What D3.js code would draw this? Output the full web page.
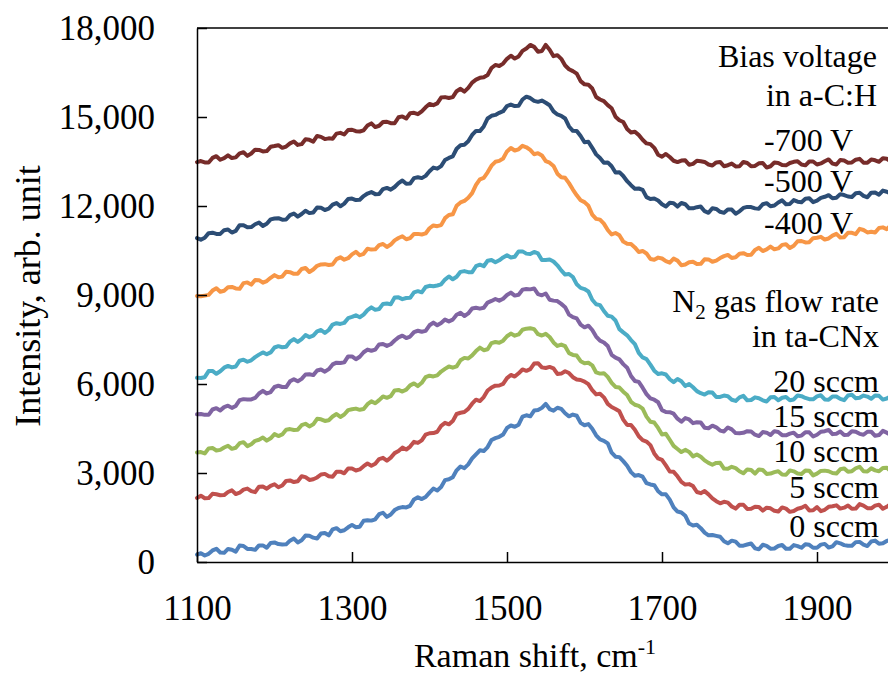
<!DOCTYPE html>
<html>
<head>
<meta charset="utf-8">
<script src="https://cdn.jsdelivr.net/npm/d3@7"></script>
<style>
  html, body { margin: 0; padding: 0; background: #fff; overflow: hidden; }
  svg { display: block; font-family: "Liberation Serif", "Times New Roman", serif; }
</style>
</head>
<body>
<svg id="chart" width="888" height="677"></svg>
<script>
// Raman shift grid (cm-1), one reading every 5 cm-1
const ramanShift = d3.range(1100, 2001, 5);

// Intensity (arb. unit), offset-stacked spectra; each row covers 100 cm-1
const sccm0 = [
  250, 295, 220, 275, 390, 445, 320, 310, 440, 415, 350, 555, 540, 440, 440, 410, 560, 560, 480, 640,
  660, 605, 590, 595, 720, 790, 660, 735, 890, 885, 820, 790, 960, 980, 900, 1100, 1140, 1035, 1070, 1170,
  1250, 1170, 1190, 1390, 1410, 1395, 1440, 1610, 1660, 1520, 1600, 1750, 1820, 1850, 1840, 1895, 2110, 2185, 2120, 2190,
  2340, 2475, 2410, 2525, 2760, 2790, 2860, 3090, 3220, 3165, 3290, 3490, 3630, 3765, 3740, 3875, 4110, 4175, 4220, 4300,
  4520, 4600, 4560, 4630, 4900, 4945, 4910, 5105, 5120, 5195, 5330, 5155, 5100, 5200, 5160, 5015, 4910, 4970, 4930, 4690,
  4610, 4650, 4490, 4270, 4130, 4085, 4000, 3685, 3550, 3535, 3400, 3245, 3030, 2910, 2930, 2875, 2660, 2615, 2590, 2385,
  2280, 2280, 2100, 1840, 1700, 1670, 1560, 1295, 1230, 1255, 1140, 990, 900, 910, 880, 850, 700, 630, 720, 685,
  550, 550, 590, 625, 460, 430, 580, 545, 450, 455, 540, 572, 445, 448, 570, 535, 480, 600, 580, 480,
  480, 585, 610, 488, 525, 668, 630, 568, 545, 548, 670, 678, 585, 538, 690, 722, 615, 632, 710, 745,
  660];
const sccm5 = [
  2160, 2235, 2150, 2155, 2300, 2285, 2250, 2255, 2360, 2415, 2290, 2335, 2440, 2475, 2390, 2355, 2540, 2545, 2470, 2565,
  2620, 2520, 2580, 2735, 2750, 2695, 2720, 2890, 2860, 2765, 2790, 2850, 2950, 2970, 2890, 2875, 3040, 3045, 2990, 3150,
  3150, 3085, 3120, 3230, 3320, 3245, 3310, 3470, 3510, 3415, 3520, 3670, 3740, 3855, 3790, 3890, 4050, 4015, 4100, 4290,
  4340, 4345, 4390, 4590, 4690, 4640, 4750, 4990, 5030, 5055, 5160, 5335, 5470, 5425, 5560, 5780, 5880, 5945, 5950, 6005,
  6200, 6305, 6250, 6360, 6490, 6445, 6500, 6690, 6700, 6560, 6540, 6575, 6530, 6340, 6350, 6430, 6370, 6230, 6150, 6135,
  6080, 5995, 5790, 5650, 5670, 5550, 5330, 5225, 5160, 5080, 4800, 4620, 4620, 4460, 4240, 4110, 4060, 3940, 3660, 3490,
  3440, 3255, 3050, 3040, 2890, 2700, 2610, 2625, 2560, 2360, 2320, 2390, 2280, 2145, 2050, 1980, 2030, 2000, 1870, 1800,
  1930, 1930, 1790, 1795, 1860, 1855, 1730, 1830, 1810, 1725, 1700, 1840, 1800, 1690, 1720, 1795, 1830, 1895, 1740, 1745,
  1850, 1715, 1760, 1860, 1880, 1910, 1800, 1832, 1905, 1792, 1800, 1950, 1900, 1815, 1810, 1900, 1930, 1795, 1860, 1945,
  1930];
const sccm10 = [
  3690, 3705, 3660, 3830, 3840, 3760, 3780, 3860, 3920, 3815, 3850, 4005, 4040, 3905, 3970, 4085, 4120, 4195, 4090, 4170,
  4310, 4245, 4300, 4460, 4480, 4450, 4460, 4610, 4660, 4570, 4640, 4825, 4810, 4755, 4780, 4905, 4990, 4890, 4970, 5120,
  5150, 5170, 5130, 5155, 5320, 5415, 5350, 5455, 5580, 5535, 5590, 5785, 5800, 5745, 5810, 5955, 6020, 5930, 6040, 6230,
  6280, 6255, 6290, 6420, 6510, 6590, 6550, 6595, 6800, 6880, 6860, 6965, 7110, 7225, 7140, 7170, 7380, 7415, 7390, 7460,
  7610, 7700, 7630, 7670, 7830, 7865, 7880, 7850, 7680, 7635, 7690, 7585, 7400, 7285, 7330, 7275, 7040, 6980, 6960, 6770,
  6700, 6715, 6630, 6390, 6350, 6365, 6240, 6040, 5900, 5880, 5740, 5630, 5400, 5300, 5260, 5170, 4900, 4730, 4700, 4520,
  4300, 4320, 4120, 3915, 3810, 3705, 3780, 3710, 3560, 3625, 3550, 3425, 3340, 3280, 3340, 3345, 3150, 3140, 3210, 3165,
  3060, 2990, 3120, 3100, 2980, 3120, 3100, 2970, 2980, 3030, 3060, 2950, 2940, 3088, 3055, 2982, 2970, 3085, 3080, 2920,
  2980, 3070, 3080, 3060, 3000, 2982, 3125, 3155, 3045, 3062, 3160, 3210, 3060, 3048, 3155, 3088, 3060, 3170, 3180, 3055,
  3110];
const sccm15 = [
  4980, 4990, 4960, 4960, 5140, 5185, 5110, 5220, 5270, 5195, 5260, 5455, 5490, 5475, 5480, 5530, 5680, 5770, 5680, 5730,
  5900, 5940, 5900, 5895, 6090, 6160, 6090, 6175, 6320, 6330, 6300, 6455, 6490, 6415, 6500, 6660, 6720, 6705, 6730, 6930,
  6930, 6835, 6920, 7070, 7160, 7120, 7160, 7335, 7350, 7285, 7340, 7465, 7570, 7630, 7550, 7600, 7750, 7795, 7760, 7790,
  7980, 8070, 7980, 8055, 8170, 8110, 8170, 8335, 8400, 8290, 8380, 8545, 8570, 8540, 8570, 8745, 8800, 8865, 8810, 8875,
  9000, 9080, 8980, 9010, 9180, 9205, 9190, 9220, 9030, 8990, 9050, 8840, 8810, 8795, 8700, 8590, 8340, 8255, 8210, 8000,
  7910, 7965, 7820, 7600, 7460, 7400, 7280, 6985, 6890, 6830, 6670, 6550, 6270, 6100, 6070, 5875, 5660, 5515, 5470, 5385,
  5120, 5055, 5050, 5000, 4830, 4730, 4850, 4805, 4680, 4710, 4700, 4525, 4510, 4595, 4540, 4430, 4400, 4535, 4470, 4345,
  4340, 4355, 4410, 4400, 4290, 4245, 4380, 4360, 4280, 4410, 4380, 4275, 4270, 4325, 4360, 4240, 4260, 4375, 4370, 4230,
  4290, 4390, 4410, 4450, 4310, 4325, 4400, 4285, 4290, 4410, 4390, 4320, 4290, 4390, 4390, 4255, 4280, 4420, 4360, 4285,
  4290];
const sccm20 = [
  6210, 6200, 6230, 6435, 6440, 6345, 6430, 6550, 6610, 6560, 6590, 6785, 6820, 6750, 6800, 6905, 6990, 7065, 7000, 7065,
  7230, 7275, 7240, 7255, 7430, 7515, 7420, 7515, 7650, 7580, 7630, 7775, 7820, 7720, 7820, 8005, 8050, 8025, 8060, 8220,
  8260, 8315, 8250, 8340, 8490, 8585, 8500, 8530, 8700, 8715, 8690, 8915, 8920, 8860, 8900, 8905, 9090, 9130, 9090, 9270,
  9310, 9295, 9320, 9360, 9520, 9625, 9530, 9615, 9780, 9805, 9770, 9770, 9970, 10020, 9970, 10155, 10180, 10105, 10170, 10265,
  10340, 10265, 10290, 10470, 10470, 10395, 10380, 10450, 10400, 10180, 10180, 10195, 10130, 10000, 9830, 9690, 9710, 9605, 9360, 9240,
  9200, 9120, 8840, 8690, 8660, 8460, 8300, 8270, 8140, 7850, 7740, 7640, 7480, 7345, 7050, 6895, 6840, 6655, 6450, 6335,
  6360, 6320, 6160, 6065, 6170, 6090, 5930, 6000, 5890, 5760, 5690, 5645, 5720, 5710, 5560, 5565, 5610, 5590, 5470, 5430,
  5550, 5600, 5450, 5460, 5550, 5520, 5450, 5410, 5550, 5560, 5450, 5535, 5560, 5450, 5480, 5615, 5590, 5530, 5490, 5485,
  5580, 5620, 5480, 5470, 5580, 5580, 5500, 5455, 5610, 5635, 5520, 5535, 5610, 5575, 5500, 5610, 5600, 5475, 5510, 5580,
  5550];
const bias400 = [
  8970, 8955, 8980, 9005, 9150, 9230, 9110, 9145, 9260, 9270, 9220, 9210, 9400, 9425, 9350, 9505, 9500, 9415, 9470, 9580,
  9670, 9595, 9620, 9785, 9770, 9715, 9720, 9875, 9910, 9775, 9860, 9985, 10030, 10040, 10010, 10030, 10210, 10270, 10190, 10240,
  10370, 10455, 10340, 10390, 10560, 10530, 10540, 10680, 10720, 10620, 10700, 10840, 10920, 10980, 10880, 10920, 11060, 11060, 11040, 11075,
  11250, 11345, 11320, 11355, 11590, 11695, 11720, 12010, 12120, 12170, 12280, 12435, 12710, 12900, 12950, 13135, 13360, 13490, 13520, 13600,
  13840, 13955, 13870, 13910, 14030, 13980, 13890, 13745, 13780, 13705, 13510, 13460, 13350, 13090, 12970, 12950, 12770, 12555, 12360, 12195,
  12130, 12010, 11710, 11565, 11540, 11405, 11190, 11040, 11090, 11015, 10800, 10730, 10720, 10605, 10450, 10485, 10400, 10215, 10190, 10260,
  10230, 10140, 10090, 10225, 10160, 10005, 10030, 10105, 10120, 10045, 10050, 10205, 10200, 10120, 10160, 10245, 10310, 10350, 10250, 10270,
  10390, 10410, 10350, 10355, 10520, 10590, 10480, 10535, 10630, 10540, 10570, 10690, 10710, 10585, 10660, 10810, 10820, 10770, 10780, 10915,
  10930, 10960, 10870, 10905, 11000, 11060, 10940, 10950, 11100, 11095, 11050, 11230, 11190, 11110, 11130, 11105, 11260, 11280, 11220, 11345,
  11330];
const bias500 = [
  10920, 10865, 10930, 11085, 11100, 11060, 11060, 11185, 11210, 11105, 11160, 11355, 11350, 11280, 11290, 11385, 11440, 11330, 11400, 11550,
  11580, 11590, 11540, 11545, 11690, 11745, 11640, 11730, 11840, 11760, 11780, 11950, 11940, 11865, 11910, 12045, 12100, 11990, 12080, 12235,
  12250, 12200, 12210, 12335, 12420, 12470, 12400, 12405, 12570, 12610, 12550, 12640, 12770, 12860, 12750, 12755, 12940, 12970, 12940, 13015,
  13170, 13295, 13260, 13345, 13550, 13620, 13670, 13930, 14050, 14065, 14180, 14395, 14530, 14525, 14680, 14950, 15040, 15070, 15140, 15195,
  15370, 15420, 15370, 15380, 15590, 15685, 15640, 15545, 15510, 15555, 15480, 15395, 15190, 15085, 15040, 14950, 14680, 14535, 14530, 14360,
  14150, 14165, 13960, 13740, 13620, 13455, 13470, 13340, 13130, 13140, 13010, 12835, 12700, 12585, 12590, 12545, 12300, 12235, 12250, 12185,
  12060, 11985, 12110, 12095, 11980, 12100, 12060, 11920, 11920, 11960, 11980, 11825, 11770, 11925, 11900, 11805, 11770, 11885, 11880, 11740,
  11820, 11935, 11970, 11965, 11920, 11910, 12060, 12095, 11990, 12015, 12120, 12190, 12060, 12070, 12200, 12145, 12130, 12245, 12260, 12130,
  12180, 12275, 12310, 12365, 12260, 12280, 12400, 12370, 12320, 12305, 12430, 12445, 12340, 12295, 12450, 12455, 12380, 12520, 12480, 12425,
  12430];
const bias700 = [
  13480, 13515, 13470, 13465, 13620, 13680, 13560, 13615, 13710, 13615, 13640, 13775, 13810, 13690, 13770, 13900, 13890, 13840, 13850, 13995,
  14020, 14050, 13960, 14005, 14110, 14175, 14060, 14085, 14250, 14230, 14170, 14360, 14330, 14255, 14280, 14270, 14440, 14465, 14410, 14560,
  14570, 14520, 14510, 14550, 14710, 14785, 14660, 14705, 14830, 14840, 14790, 14790, 14990, 15020, 14950, 15125, 15140, 15095, 15190, 15325,
  15440, 15400, 15460, 15655, 15670, 15640, 15670, 15870, 15950, 15855, 15980, 16160, 16260, 16320, 16340, 16415, 16650, 16755, 16720, 16800,
  16960, 17065, 16970, 17040, 17230, 17310, 17430, 17365, 17200, 17225, 17430, 17270, 17050, 17085, 16960, 16735, 16610, 16545, 16460, 16210,
  16100, 16090, 15960, 15675, 15590, 15535, 15400, 15295, 15010, 14890, 14830, 14595, 14480, 14505, 14390, 14230, 14110, 14085, 13960, 13730,
  13660, 13755, 13650, 13525, 13480, 13530, 13540, 13390, 13420, 13525, 13510, 13485, 13400, 13365, 13470, 13485, 13340, 13375, 13430, 13335,
  13340, 13485, 13450, 13340, 13350, 13440, 13450, 13295, 13340, 13465, 13450, 13380, 13370, 13450, 13490, 13505, 13400, 13370, 13500, 13500,
  13400, 13435, 13510, 13570, 13430, 13400, 13550, 13535, 13460, 13470, 13560, 13590, 13460, 13455, 13570, 13540, 13490, 13610, 13590, 13510,
  13530];

const seriesNames  = ["0 sccm", "5 sccm", "10 sccm", "15 sccm", "20 sccm", "-400 V", "-500 V", "-700 V"];
const seriesValues = [sccm0, sccm5, sccm10, sccm15, sccm20, bias400, bias500, bias700];
const seriesColors = ["#4F81BD", "#C0504D", "#9BBB59", "#8064A2", "#4BACC6", "#F79646", "#2C4D75", "#772C2A"];

const xTicks = [1100, 1300, 1500, 1700, 1900];
const yTicks = [0, 3000, 6000, 9000, 12000, 15000, 18000];

const svg = d3.select("#chart");
const margin = { left: 197, top: 28, bottom: 562 };

const x = d3.scaleLinear().domain([1100, 2000]).range([margin.left, margin.left + 697.5]);
const y = d3.scaleLinear().domain([0, 18000]).range([margin.bottom, margin.top]);

// Annotation text (drawn beneath the traces)
const notes = svg.append("g").attr("font-size", 32).attr("fill", "#000");
notes.append("text").attr("x", 877).attr("y", 67).attr("text-anchor", "end").text("Bias voltage");
notes.append("text").attr("x", 877).attr("y", 106).attr("text-anchor", "end").text("in a-C:H");
[["-700 V", 151], ["-500 V", 192], ["-400 V", 234]].forEach(([t, yy]) => {
  notes.append("text").attr("x", 764).attr("y", yy).attr("text-anchor", "start").text(t);
});
const n2 = notes.append("text").attr("x", 879).attr("y", 312).attr("text-anchor", "end");
n2.append("tspan").text("N");
n2.append("tspan").attr("font-size", 21).attr("dy", 7).text("2");
n2.append("tspan").attr("dy", -7).text(" gas flow rate");
notes.append("text").attr("x", 879).attr("y", 347).attr("text-anchor", "end").text("in ta-CNx");
[["20 sccm", 392], ["15 sccm", 427], ["10 sccm", 462], ["5 sccm", 498], ["0 sccm", 537]].forEach(([t, yy]) => {
  notes.append("text").attr("x", 879).attr("y", yy).attr("text-anchor", "end").text(t);
});

// Spectra
const line = d3.line()
  .x((d, i) => x(ramanShift[i]))
  .y(d => y(d));

svg.append("g").selectAll("path")
  .data(seriesValues)
  .join("path")
  .attr("d", d => line(d))
  .attr("fill", "none")
  .attr("stroke", (d, i) => seriesColors[i])
  .attr("stroke-width", 4)
  .attr("stroke-linejoin", "round")
  .attr("stroke-linecap", "round");

// Frame: top border
svg.append("line")
  .attr("x1", margin.left).attr("x2", 900)
  .attr("y1", y(18000)).attr("y2", y(18000))
  .attr("stroke", "#000").attr("stroke-width", 1.5);

// Axes
const yAxis = d3.axisLeft(y)
  .tickValues(yTicks)
  .tickFormat(d3.format(","))
  .tickSizeInner(-10)
  .tickSizeOuter(0)
  .tickPadding(42);
const gy = svg.append("g").attr("transform", `translate(${margin.left},0)`).call(yAxis);
gy.select(".domain").attr("stroke", "#000").attr("stroke-width", 1.5);
gy.selectAll(".tick line").attr("stroke", "#000").attr("stroke-width", 1.5);
gy.selectAll(".tick text")
  .attr("font-family", "Liberation Serif, serif")
  .attr("font-size", 35)
  .attr("fill", "#000")
  .attr("dy", "0.34em");

const xAxis = d3.axisBottom(x)
  .tickValues(xTicks)
  .tickFormat(d3.format("d"))
  .tickSizeInner(-10)
  .tickSizeOuter(0)
  .tickPadding(33);
const gx = svg.append("g").attr("transform", `translate(0,${margin.bottom})`).call(xAxis);
gx.select(".domain").attr("stroke", "#000").attr("stroke-width", 1.5);
gx.selectAll(".tick line").attr("stroke", "#000").attr("stroke-width", 1.5);
gx.selectAll(".tick text")
  .attr("font-family", "Liberation Serif, serif")
  .attr("font-size", 35)
  .attr("fill", "#000")
  .attr("y", 58)
  .attr("dy", 0);

// Axis titles
const xt = svg.append("text")
  .attr("x", 535).attr("y", 667)
  .attr("text-anchor", "middle")
  .attr("font-size", 34);
xt.append("tspan").text("Raman shift, cm");
xt.append("tspan").attr("font-size", 22).attr("dy", -13).text("-1");

svg.append("text")
  .attr("transform", "translate(40,296) rotate(-90)")
  .attr("text-anchor", "middle")
  .attr("font-size", 36)
  .text("Intensity, arb. unit");
</script>
</body>
</html>
